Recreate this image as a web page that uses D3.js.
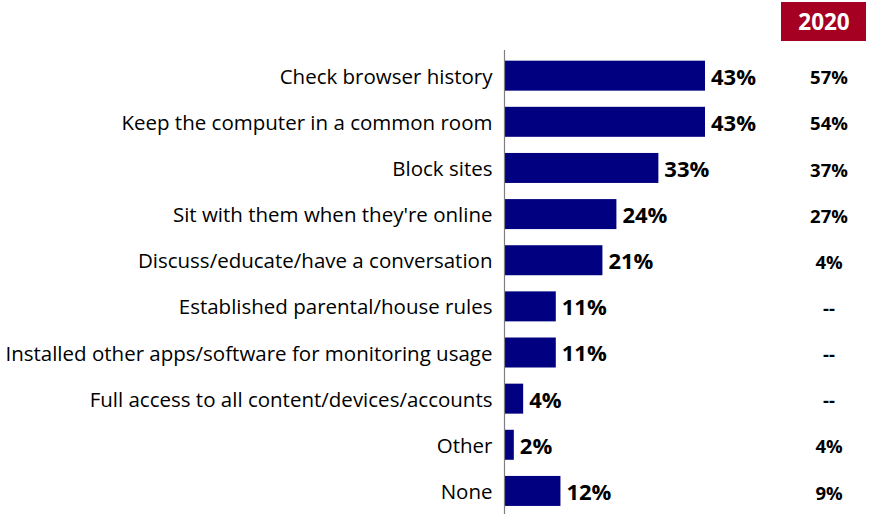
<!DOCTYPE html>
<html>
<head>
<meta charset="utf-8">
<script src="https://cdn.jsdelivr.net/npm/d3@7"></script>
<style>
  html, body { margin: 0; padding: 0; background: #fff; }
  svg { display: block; }
  text { font-family: "Open Sans", "Noto Sans", sans-serif; }
</style>
</head>
<body>
<svg id="chart" width="875" height="514"></svg>
<script>
// Parental monitoring actions: current share and the 2020 comparison column
const categories = [
  "Check browser history",
  "Keep the computer in a common room",
  "Block sites",
  "Sit with them when they're online",
  "Discuss/educate/have a conversation",
  "Established parental/house rules",
  "Installed other apps/software for monitoring usage",
  "Full access to all content/devices/accounts",
  "Other",
  "None"
];
const values = [43, 43, 33, 24, 21, 11, 11, 4, 2, 12];
const values2020 = ["57%", "54%", "37%", "27%", "4%", "--", "--", "--", "4%", "9%"];
const headerLabel = "2020";

const svg = d3.select("#chart");
const W = 875, H = 514;
const axisX = 504.5;

const x = d3.scaleLinear().domain([0, 43]).range([axisX, 705]);
const y = d3.scaleBand().domain(categories).range([52.6, 514])
  .paddingInner(0.35).paddingOuter(0.175);

// bars
svg.append("g").selectAll("rect").data(categories).join("rect")
  .attr("x", x(0))
  .attr("y", d => y(d))
  .attr("width", (d, i) => x(values[i]) - x(0))
  .attr("height", y.bandwidth())
  .attr("fill", "#000080");

// category axis (labels only, vertical rule)
const yAxis = d3.axisLeft(y).tickSize(0).tickPadding(12);
const gAxis = svg.append("g").attr("transform", `translate(${axisX},1.5)`).call(yAxis);
gAxis.select(".domain").remove();
gAxis.selectAll("text")
  .attr("font-size", 20.5)
  .attr("fill", "#000")
  .style("font-family", "'Open Sans', 'Noto Sans', sans-serif");
svg.append("line")
  .attr("x1", axisX).attr("x2", axisX)
  .attr("y1", 50).attr("y2", H)
  .attr("stroke", "#808080").attr("stroke-width", 1.2);

// value labels
svg.append("g").selectAll("text").data(categories).join("text")
  .attr("x", (d, i) => x(values[i]) + 6)
  .attr("y", d => y(d) + y.bandwidth() / 2 + 1)
  .attr("dy", "0.36em")
  .attr("font-size", 22)
  .attr("font-weight", "bold")
  .attr("fill", "#000")
  .text((d, i) => values[i] + "%");

// 2020 column header
svg.append("rect")
  .attr("x", 781).attr("y", 2).attr("width", 85).attr("height", 39)
  .attr("fill", "#A50021");
svg.append("text")
  .attr("x", 824).attr("y", 21.5).attr("dy", "0.36em")
  .attr("text-anchor", "middle")
  .attr("font-size", 22.5).attr("font-weight", "bold").attr("fill", "#fff")
  .text(headerLabel);

// 2020 values
svg.append("g").selectAll("text").data(categories).join("text")
  .attr("x", 829)
  .attr("y", d => y(d) + y.bandwidth() / 2 + 2)
  .attr("dy", "0.36em")
  .attr("text-anchor", "middle")
  .attr("font-size", 18.5)
  .attr("font-weight", "bold")
  .attr("fill", "#000")
  .text((d, i) => values2020[i]);
</script>
</body>
</html>
